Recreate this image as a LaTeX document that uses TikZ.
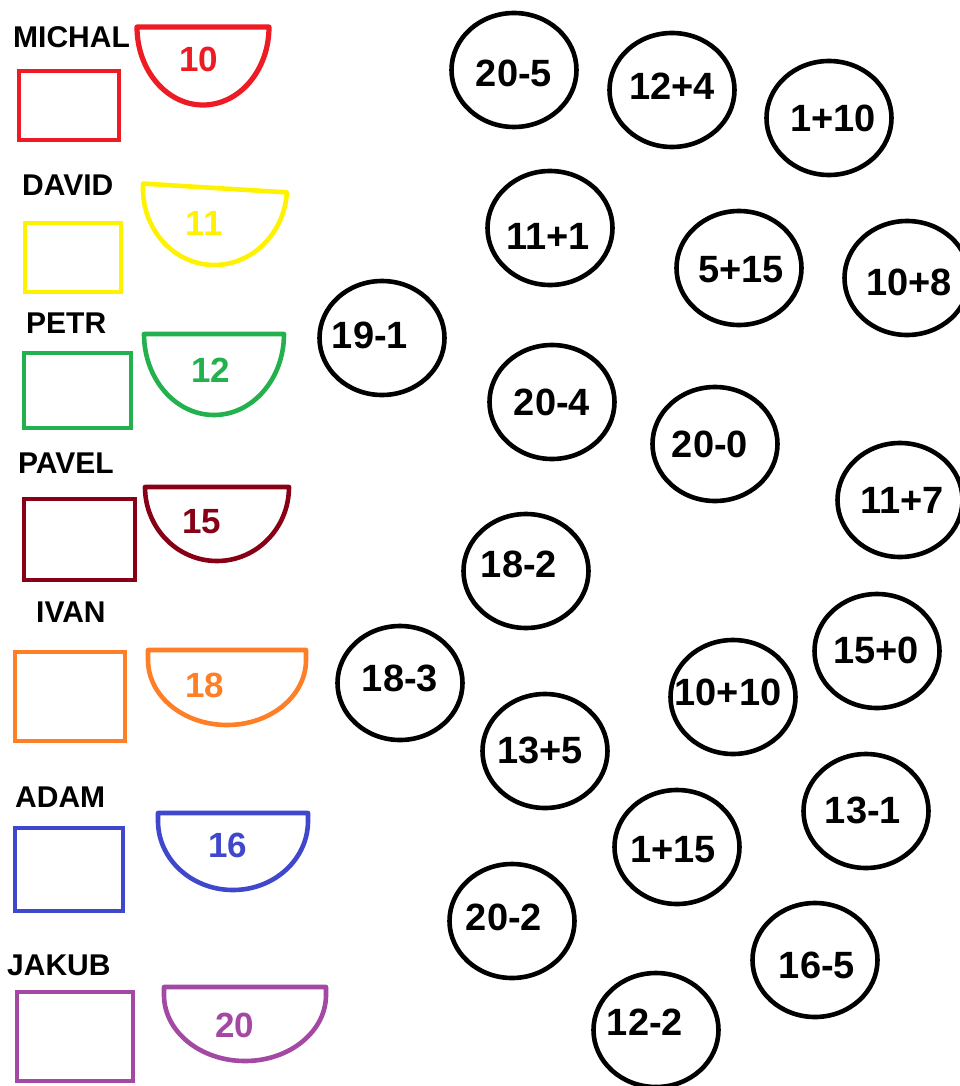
\documentclass[tikz,border=0pt]{standalone}
\usepackage{fontspec}
\setmainfont{Liberation Sans}
\usetikzlibrary{shapes.geometric}
\definecolor{cred}{HTML}{ED1C24}
\definecolor{cyel}{HTML}{FFF200}
\definecolor{cgrn}{HTML}{22B14C}
\definecolor{cdrd}{HTML}{880015}
\definecolor{corg}{HTML}{FF7F27}
\definecolor{cblu}{HTML}{3F48CC}
\definecolor{cpur}{HTML}{A349A4}
\tikzset{
  ball/.style={draw=black, line width=4.6pt, ellipse, minimum width=125pt, minimum height=114pt, inner sep=0pt},
  num/.style={anchor=base, inner sep=0pt, font=\bfseries\fontsize{38}{40}\selectfont},
  bownum/.style={anchor=base, inner sep=0pt, font=\bfseries\fontsize{35}{38}\selectfont},
  kidname/.style={anchor=base west, inner sep=0pt, font=\bfseries\fontsize{30}{32}\selectfont},
  box/.style={line width=4.8pt},
  bowl/.style={line width=4.6pt, line join=round}
}
\begin{document}
\begin{tikzpicture}[x=1pt,y=-1pt]
\useasboundingbox (0,0) rectangle (960,1086);
\fill[white] (0,0) rectangle (960,1086);
\clip (0,0) rectangle (960,1086);

% names
\node[kidname] (n1) at (13,48) {MICHAL};
\node[kidname] (n2) at (22,195) {DAVID};
\node[kidname] (n3) at (26,333) {PETR};
\node[kidname] (n4) at (18,473) {PAVEL};
\node[kidname] (n5) at (36,622) {IVAN};
\node[kidname] (n6) at (15,807) {ADAM};
\node[kidname] (n7) at (7,975) {JAKUB};

% boxes
\draw[box, cred] (19,71) rectangle (119,140);
\draw[box, cyel] (25,223) rectangle (121,292);
\draw[box, cgrn] (24,353) rectangle (131,428);
\draw[box, cdrd] (24,499) rectangle (135,580);
\draw[box, corg] (15,652) rectangle (125,741);
\draw[box, cblu] (15,828) rectangle (123,911);
\draw[box, cpur] (17,992) rectangle (133,1081);

% bowls
\draw[bowl, cred, line width=5.2pt] (137,27) -- (269,27) arc[start angle=0, end angle=180, x radius=66, y radius=78] -- cycle;
\begin{scope}[shift={(215,188)}, rotate=-3.5]
\draw[bowl, cyel] (-72,0) -- (72,0) arc[start angle=0, end angle=180, x radius=72, y radius=77] -- cycle;
\end{scope}
\draw[bowl, cgrn] (144,334) -- (284,334) arc[start angle=0, end angle=180, x radius=70, y radius=81] -- cycle;
\draw[bowl, cdrd] (145,487) -- (289,487) arc[start angle=0, end angle=180, x radius=72, y radius=74] -- cycle;
\draw[bowl, corg] (148,650) -- (306,650) -- (306,660) arc[start angle=0, end angle=180, x radius=79, y radius=65] -- cycle;
\draw[bowl, cblu] (158,813) -- (308,813) -- (308,821) arc[start angle=0, end angle=180, x radius=75, y radius=69] -- cycle;
\draw[bowl, cpur] (164,987) -- (326,987) -- (326,995) arc[start angle=0, end angle=180, x radius=81, y radius=66] -- cycle;

% bowl numbers
\node[bownum, text=cred] (b1) at (199,72) {10};
\node[bownum, text=cyel] (b2) at (204,235) {11};
\node[bownum, text=cgrn] (b3) at (211,382) {12};
\node[bownum, text=cdrd] (b4) at (202,533) {15};
\node[bownum, text=corg] (b5) at (205,697) {18};
\node[bownum, text=cblu] (b6) at (228,857) {16};
\node[bownum, text=cpur] (b7) at (235,1037) {20};

% circles
\node[ball] (c1) at (514,70) {};
\node[ball] (c2) at (672,90) {};
\node[ball] (c3) at (829,118) {};
\node[ball] (c4) at (550,228) {};
\node[ball] (c5) at (739,268) {};
\node[ball] (c6) at (907,278) {};
\node[ball] (c7) at (382,338) {};
\node[ball] (c8) at (552,402) {};
\node[ball] (c9) at (715,444) {};
\node[ball] (c10) at (900,500) {};
\node[ball] (c11) at (526,571) {};
\node[ball] (c12) at (400,683) {};
\node[ball] (c13) at (545,751) {};
\node[ball] (c14) at (733,697) {};
\node[ball] (c15) at (877,651) {};
\node[ball] (c16) at (866,811) {};
\node[ball] (c17) at (677,847) {};
\node[ball] (c18) at (512,921) {};
\node[ball] (c19) at (815,960) {};
\node[ball] (c20) at (656,1030) {};

% circle texts
\node[num] (t1) at (514,87) {20-5};
\node[num] (t2) at (672,100) {12+4};
\node[num] (t3) at (833,132) {1+10};
\node[num] (t4) at (548,249) {11+1};
\node[num] (t5) at (741,282) {5+15};
\node[num] (t6) at (909,295) {10+8};
\node[num] (t7) at (370,348) {19-1};
\node[num] (t8) at (552,415) {20-4};
\node[num] (t9) at (710,457) {20-0};
\node[num] (t10) at (902,513) {11+7};
\node[num] (t11) at (519,577) {18-2};
\node[num] (t12) at (400,691) {18-3};
\node[num] (t13) at (540,763) {13+5};
\node[num] (t14) at (728,705) {10+10};
\node[num] (t15) at (876,663) {15+0};
\node[num] (t16) at (863,823) {13-1};
\node[num] (t17) at (673,862) {1+15};
\node[num] (t18) at (504,930) {20-2};
\node[num] (t19) at (817,978) {16-5};
\node[num] (t20) at (645,1035) {12-2};
\end{tikzpicture}
\end{document}
